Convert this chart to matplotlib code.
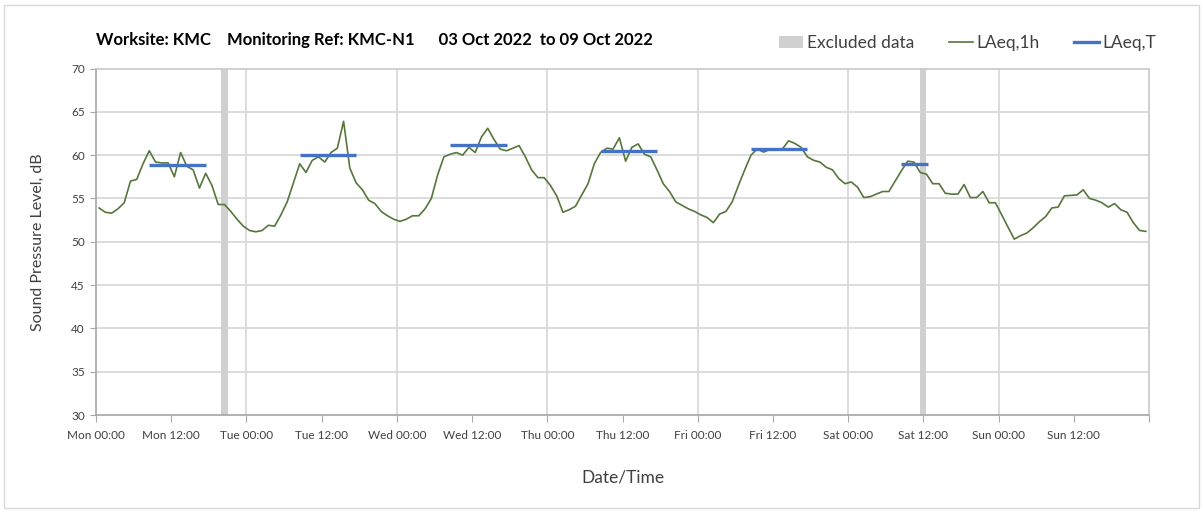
import numpy as np
import matplotlib
matplotlib.use("Agg")
import matplotlib.pyplot as plt
from matplotlib.patches import Rectangle
from matplotlib.lines import Line2D
from matplotlib.patches import Patch

# ---- data ----
laeq_1h = [
    53.9, 53.4, 53.3, 53.8, 54.5, 57.0, 57.2, 59.0, 60.5, 59.2, 59.1, 59.1,
    57.5, 60.3, 58.7, 58.3, 56.2, 57.9, 56.5, 54.3, 54.3, 53.5, 52.6, 51.8,
    51.3, 51.15, 51.3, 51.9, 51.8, 53.1, 54.6, 56.8, 59.0, 58.0, 59.4, 59.8,
    59.2, 60.3, 60.8, 63.9, 58.5, 56.8, 56.0, 54.8, 54.4, 53.5, 53.0, 52.6,
    52.35, 52.6, 53.0, 53.0, 53.8, 55.0, 57.7, 59.8, 60.1, 60.3, 60.0, 60.9,
    60.3, 62.1, 63.1, 61.8, 60.7, 60.5, 60.8, 61.1, 59.8, 58.3, 57.4, 57.4,
    56.5, 55.3, 53.4, 53.7, 54.1, 55.4, 56.7, 59.0, 60.3, 60.8, 60.7, 62.0,
    59.3, 60.9, 61.3, 60.1, 59.8, 58.3, 56.7, 55.8, 54.6, 54.2, 53.8, 53.5,
    53.1, 52.8, 52.2, 53.2, 53.5, 54.6, 56.5, 58.3, 60.0, 60.7, 60.35, 60.65,
    60.6, 60.7, 61.65, 61.35, 60.9, 59.8, 59.4, 59.2, 58.6, 58.3, 57.3, 56.7,
    56.9, 56.3, 55.1, 55.2, 55.5, 55.8, 55.8, 57.0, 58.2, 59.3, 59.2, 58.0,
    57.8, 56.7, 56.7, 55.6, 55.5, 55.5, 56.6, 55.1, 55.1, 55.8, 54.5, 54.5,
    53.1, 51.7, 50.3, 50.7, 51.0, 51.6, 52.3, 52.9, 53.9, 54.0, 55.3, 55.35,
    55.4, 56.0, 55.0, 54.8, 54.5, 54.0, 54.4, 53.7, 53.4, 52.2, 51.3, 51.2,
]
hours = np.arange(len(laeq_1h)) + 0.5

laeq_t_start = [8.5, 32.5, 56.5, 80.5, 104.5, 128.5]
laeq_t_end = [17.5, 41.5, 65.5, 89.5, 113.5, 132.8]
laeq_t_value = [58.9, 60.0, 61.2, 60.5, 60.65, 59.0]

excluded_start = [20.0, 131.5]
excluded_end = [21.0, 132.5]

tick_hours = list(range(0, 169, 12))
tick_labels = ["Mon 00:00", "Mon 12:00", "Tue 00:00", "Tue 12:00", "Wed 00:00",
               "Wed 12:00", "Thu 00:00", "Thu 12:00", "Fri 00:00", "Fri 12:00",
               "Sat 00:00", "Sat 12:00", "Sun 00:00", "Sun 12:00", ""]

title_text = "Worksite: KMC    Monitoring Ref: KMC-N1      03 Oct 2022  to 09 Oct 2022"

# ---- style ----
plt.rcParams['font.family'] = ['Lato', 'DejaVu Sans']
green = '#56763b'
blue = '#4472c4'
excl_grey = '#d0d0d0'
grid_grey = '#d9d9d9'
axis_grey = '#a6a6a6'
text_col = '#404040'

W, H = 1203, 512
fig = plt.figure(figsize=(W / 100, H / 100), dpi=100)
fig.patch.set_facecolor('white')
# outer chart border
fig.add_artist(Rectangle((4 / W, 4 / H), (W - 8) / W, (H - 9) / H, transform=fig.transFigure,
                         fill=False, edgecolor='#d9d9d9', linewidth=1))

left, right, top, bottom = 96, 1149, 68.5, 415
ax = fig.add_axes([left / W, 1 - bottom / H, (right - left) / W, (bottom - top) / H])

ax.set_xlim(0, 168)
ax.set_ylim(30, 70)

# gridlines
for y in range(35, 70, 5):
    ax.axhline(y, color=grid_grey, linewidth=1.3, zorder=0)
for xg in range(24, 168, 24):
    ax.axvline(xg, color=grid_grey, linewidth=1.3, zorder=0)

# excluded data
for s, e in zip(excluded_start, excluded_end):
    ax.axvspan(s, e, color=excl_grey, linewidth=0, zorder=1)

ax.plot(hours, laeq_1h, color=green, linewidth=1.2, zorder=3)
ax.hlines(laeq_t_value, laeq_t_start, laeq_t_end, color=blue, linewidth=2.4, zorder=4)

ax.set_xticks(tick_hours)
ax.set_xticklabels(tick_labels)
ax.set_yticks(range(30, 71, 5))
ax.tick_params(axis='x', direction='out', length=5, color=axis_grey, labelsize=8.5,
               labelcolor=text_col, pad=6)
ax.tick_params(axis='y', direction='out', length=4, color=axis_grey, labelsize=8.5,
               labelcolor=text_col, pad=4)
for sp in ax.spines.values():
    sp.set_color(axis_grey)
    sp.set_linewidth(1.2)
ax.spines['top'].set_color('#c8c8c8')
ax.spines['right'].set_color('#c8c8c8')

ax.set_ylabel("Sound Pressure Level, dB", fontsize=11.5, color=text_col, labelpad=19)
ax.set_xlabel("Date/Time", fontsize=12.5, color=text_col, labelpad=20)

fig.text(96 / W, 1 - 40 / H, title_text, fontsize=12, fontweight='bold', color='black',
         va='center', ha='left')

handles = [Patch(facecolor=excl_grey, edgecolor='none', label='Excluded data'),
           Line2D([0], [0], color=green, linewidth=1.2, label='LAeq,1h'),
           Line2D([0], [0], color=blue, linewidth=2.4, label='LAeq,T')]
leg = fig.legend(handles=handles, loc='center right', bbox_to_anchor=(1156 / W, 1 - 43 / H),
                 ncol=3, frameon=False, fontsize=12.5, handlelength=1.4, handletextpad=0.2,
                 columnspacing=2.0, labelcolor=text_col, borderaxespad=0, borderpad=0)

fig.savefig('out.png', dpi=100, facecolor='white')
